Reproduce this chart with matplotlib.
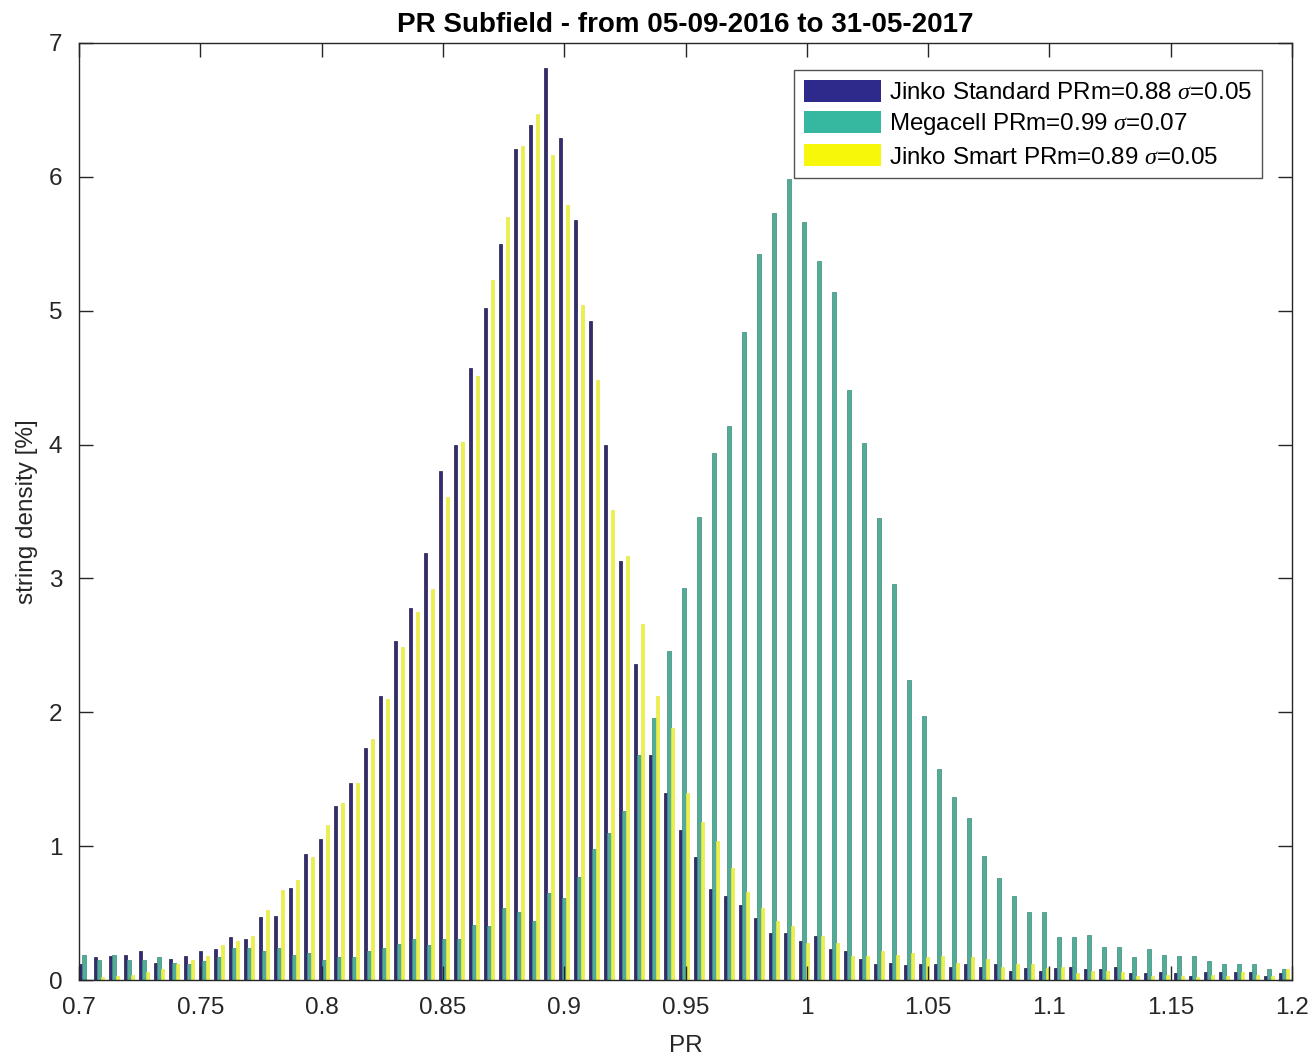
import numpy as np
import matplotlib
matplotlib.use("Agg")
import matplotlib.pyplot as plt
from matplotlib.patches import Patch

plt.rcParams['font.family'] = ['Liberation Sans', 'DejaVu Sans']
plt.rcParams['mathtext.fontset'] = 'custom'
plt.rcParams['mathtext.it'] = 'Liberation Serif:italic'

# bin centres (PR)
n_bins = 81
bin_centers = np.round(np.linspace(0.7021, 1.1967, n_bins), 5)

jinko_standard = [
    0.12, 0.17, 0.18, 0.19, 0.22, 0.13, 0.16, 0.18, 0.22, 0.23, 0.32, 0.31,
    0.47, 0.48, 0.69, 0.94, 1.05, 1.30, 1.47, 1.73, 2.12, 2.53, 2.78,
    3.19, 3.80, 4.00, 4.57, 5.02, 5.50, 6.21, 6.39, 6.81, 6.29, 5.68, 4.92, 4.00,
    3.13, 2.36, 1.68, 1.40, 1.12, 0.92, 0.68, 0.63, 0.56, 0.46, 0.35, 0.35,
    0.29, 0.33, 0.23, 0.22, 0.16, 0.12, 0.13, 0.11,
    0.12, 0.12, 0.10, 0.12, 0.10, 0.12, 0.07, 0.09, 0.07, 0.09,
    0.10, 0.08, 0.08, 0.10, 0.05, 0.05, 0.06, 0.05, 0.03, 0.06, 0.06, 0.06, 0.06, 0.03, 0.05,
]
megacell = [
    0.19, 0.15, 0.19, 0.15, 0.15, 0.17, 0.13, 0.12, 0.14, 0.17, 0.24, 0.24,
    0.22, 0.24, 0.19, 0.20, 0.15, 0.17, 0.17, 0.22, 0.24, 0.27, 0.31,
    0.26, 0.31, 0.31, 0.41, 0.40, 0.54, 0.51, 0.44, 0.65, 0.61, 0.77, 0.98, 1.10,
    1.26, 1.68, 1.96, 2.46, 2.93, 3.46, 3.94, 4.14, 4.84, 5.42, 5.73, 5.98,
    5.66, 5.37, 5.14, 4.41, 4.01, 3.45, 2.96, 2.24,
    1.97, 1.58, 1.37, 1.21, 0.93, 0.76, 0.63, 0.51, 0.51, 0.32,
    0.32, 0.34, 0.25, 0.25, 0.17, 0.23, 0.19, 0.18, 0.18, 0.14, 0.12, 0.12, 0.12, 0.08, 0.08,
]
jinko_smart = [
    0.00, 0.02, 0.03, 0.04, 0.06, 0.08, 0.12, 0.15, 0.18, 0.26, 0.29, 0.33,
    0.52, 0.67, 0.75, 0.92, 1.16, 1.32, 1.47, 1.80, 2.10, 2.49, 2.75,
    2.92, 3.61, 4.02, 4.51, 5.23, 5.70, 6.23, 6.47, 6.16, 5.79, 5.04, 4.48, 3.51,
    3.17, 2.66, 2.12, 1.88, 1.40, 1.18, 1.04, 0.84, 0.66, 0.54, 0.44, 0.40,
    0.28, 0.33, 0.28, 0.18, 0.18, 0.22, 0.19, 0.20,
    0.17, 0.18, 0.13, 0.17, 0.16, 0.10, 0.12, 0.12, 0.09, 0.10,
    0.05, 0.07, 0.07, 0.06, 0.03, 0.03, 0.04, 0.03, 0.02, 0.04, 0.03, 0.06, 0.04, 0.03, 0.08,
]

labels = ["Jinko Standard PRm=0.88 $\\sigma$=0.05",
          "Megacell PRm=0.99 $\\sigma$=0.07",
          "Jinko Smart PRm=0.89 $\\sigma$=0.05"]
legend_colors = ["#2e2a8c", "#35b89f", "#f7f70a"]
bar_colors = ["#342a78", "#52ad98", "#eef04a"]
edge_colors = ["#1e1e3a", "#3d8a7a", "#e6e84a"]

x_ticks = [0.7, 0.75, 0.8, 0.85, 0.9, 0.95, 1.0, 1.05, 1.1, 1.15, 1.2]
x_ticklabels = ["0.7", "0.75", "0.8", "0.85", "0.9", "0.95", "1", "1.05", "1.1", "1.15", "1.2"]
y_ticks = [0, 1, 2, 3, 4, 5, 6, 7]

fig = plt.figure(figsize=(13.12, 10.58), dpi=100)
ax = fig.add_axes([0.0602, 0.0737, 0.9246, 0.8857])

spacing = bin_centers[1] - bin_centers[0]
offset = 0.24 * spacing
width = 0.22 * spacing
series = [jinko_standard, megacell, jinko_smart]
for i, (vals, col, ec) in enumerate(zip(series, bar_colors, edge_colors)):
    ax.bar(bin_centers + (i - 1) * offset, vals, width=width, color=col,
           edgecolor=ec, linewidth=0.5)

handles = [Patch(facecolor=c, edgecolor='none', label=l)
           for c, l in zip(legend_colors, labels)]

ax.set_xlim(0.7, 1.2)
ax.set_ylim(0, 7)
ax.set_xticks(x_ticks)
ax.set_xticklabels(x_ticklabels)
ax.set_yticks(y_ticks)
ax.tick_params(direction='in', top=True, right=True, length=10, width=1,
               labelsize=17.5, colors='#262626')
ax.tick_params(axis='x', pad=12)
ax.tick_params(axis='y', pad=12)
for sp in ax.spines.values():
    sp.set_color('#262626')
    sp.set_linewidth(1.0)

ax.set_title("PR Subfield - from 05-09-2016 to 31-05-2017", fontsize=20,
             fontweight='bold', pad=8)
ax.set_xlabel("PR", fontsize=17.5, color='#262626', labelpad=12)
ax.set_ylabel("string density [%]", fontsize=17.5, color='#262626', labelpad=8)

leg = ax.legend(handles=handles, loc='upper right', bbox_to_anchor=(0.9753, 0.9712),
                fontsize=17.4, frameon=True, fancybox=False, edgecolor='#262626',
                handlelength=3.2, handleheight=1.05, handletextpad=0.35,
                borderpad=0.4, labelspacing=0.28, borderaxespad=0)
leg.get_frame().set_linewidth(1.0)

fig.savefig("out.png", dpi=100)
